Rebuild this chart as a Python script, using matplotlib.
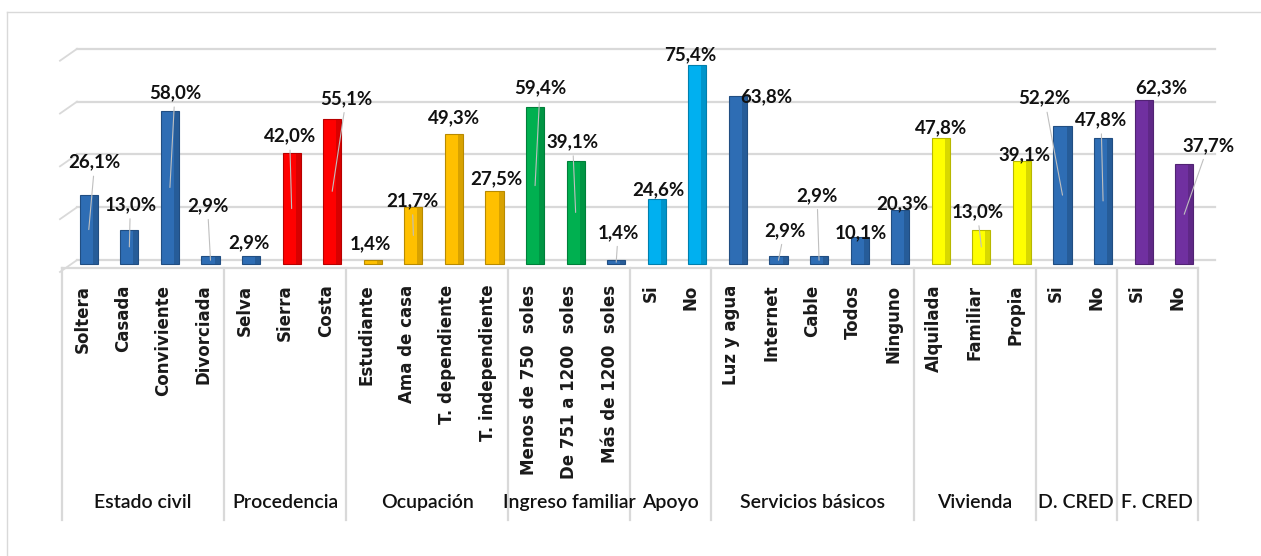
import matplotlib
matplotlib.use('Agg')
import matplotlib.pyplot as plt
import matplotlib.transforms as mtransforms
import matplotlib.colors as mcolors
from matplotlib.lines import Line2D
import numpy as np

# Datos del grafico
grupos = ['Estado civil', 'Procedencia', 'Ocupación', 'Ingreso familiar', 'Apoyo',
          'Servicios básicos', 'Vivienda', 'D. CRED', 'F. CRED']
categorias = [
    ['Soltera', 'Casada', 'Conviviente', 'Divorciada'],
    ['Selva', 'Sierra', 'Costa'],
    ['Estudiante', 'Ama de casa', 'T. dependiente', 'T. independiente'],
    ['Menos de 750  soles', 'De 751 a 1200  soles', 'Más de 1200  soles'],
    ['Si', 'No'],
    ['Luz y agua', 'Internet', 'Cable', 'Todos', 'Ninguno'],
    ['Alquilada', 'Familiar', 'Propia'],
    ['Si', 'No'],
    ['Si', 'No'],
]
porcentajes = [
    [26.1, 13.0, 58.0, 2.9],
    [2.9, 42.0, 55.1],
    [1.4, 21.7, 49.3, 27.5],
    [59.4, 39.1, 1.4],
    [24.6, 75.4],
    [63.8, 2.9, 2.9, 10.1, 20.3],
    [47.8, 13.0, 39.1],
    [52.2, 47.8],
    [62.3, 37.7],
]
lineas_y = [0, 20, 40, 60, 80]

# Estilo
AZUL = '#2E6DB4'
colores = [
    [AZUL] * 4,
    [AZUL, '#FF0000', '#FF0000'],
    ['#FFC000'] * 4,
    ['#00B050', '#00B050', AZUL],
    ['#00B0F0'] * 2,
    [AZUL] * 5,
    ['#FFFF00'] * 3,
    [AZUL] * 2,
    ['#7030A0'] * 2,
]
# desplazamiento de cada etiqueta (px) respecto a la parte alta de la barra
desp_etiqueta = [(6, 33), (1, 25), (5, 18), (-3, 51),
                 (-2, 14), (-2, 17), (14, 20),
                 (-2, 17), (-1, 6), (0, 16), (2, 13),
                 (5, 19), (-3, 19), (2, 28),
                 (2, 9), (-7, 10),
                 (28, -1), (6, 26), (-2, 61), (1, 5), (2, 7),
                 (0, 10), (-4, 18), (3, 6),
                 (-18, 28), (-2, 18),
                 (18, 12), (24, 19)]
con_guia = [1, 1, 1, 1,
            0, 1, 1,
            0, 1, 0, 0,
            1, 1, 1,
            0, 0,
            0, 1, 1, 0, 0,
            0, 1, 0,
            1, 1,
            0, 1]

DEPTH = 0.16   # desplazamiento 3D de las barras
ANCHO = 0.45
WALL = 1.5     # lineas de la pared del fondo

etiquetas = [c for g in categorias for c in g]
valores = [v for g in porcentajes for v in g]
cols = [c for g in colores for c in g]
n = len(valores)
x = np.arange(n)

fig = plt.figure(figsize=(12.61, 5.56), dpi=100)
ax = fig.add_axes([62 / 1261, 1 - 268 / 556, 1136 / 1261, 221 / 556])
ax.set_xlim(-0.5, n - 0.5)
ax.set_ylim(-1.5, 82.2)

# lineas de division del fondo
for g in lineas_y:
    ax.plot([-0.13, n - 0.5 + 0.42], [g + WALL, g + WALL], color='#D9D9D9',
            lw=1.6, clip_on=False, zorder=0)
    ax.plot([-0.55, -0.13], [g + WALL - 4.5, g + WALL], color='#D9D9D9',
            lw=1.3, clip_on=False, zorder=0)

# barras con un lado oscuro para simular el 3D
oscuros = [tuple(np.array(mcolors.to_rgb(c)) * 0.72) for c in cols]
ax.bar(x + DEPTH, valores, width=ANCHO, color=cols, edgecolor=oscuros,
       linewidth=0.8, zorder=2)
ax.bar(x + DEPTH + ANCHO * 0.36, valores, width=ANCHO * 0.28, color=oscuros,
       linewidth=0, alpha=0.55, zorder=3)

# etiquetas de datos
for i, v in enumerate(valores):
    dx, dy = desp_etiqueta[i]
    trans = mtransforms.offset_copy(ax.transData, fig=fig, x=dx, y=dy, units='dots')
    texto = f'{v:.1f}%'.replace('.', ',')
    props = None
    if con_guia[i]:
        props = dict(arrowstyle='-', color='#BFBFBF', lw=0.8, shrinkA=2, shrinkB=0)
    ax.annotate(texto, xy=(i + DEPTH, v / 2), xytext=(i + DEPTH, v), textcoords=trans,
                ha='center', va='center', fontsize=13.5, fontweight='bold',
                family=['Lato', 'DejaVu Sans'], color='#111111',
                arrowprops=props, zorder=5, annotation_clip=False)

ax.set_xticks(x)
ax.set_xticklabels(etiquetas, rotation=90, fontsize=12, fontweight='bold',
                   color='#1A1A1A')
ax.tick_params(axis='x', length=0, pad=12)
ax.set_yticks([])

for s in ['left', 'right', 'top']:
    ax.spines[s].set_visible(False)
ax.spines['bottom'].set_color('#D9D9D9')
ax.spines['bottom'].set_linewidth(1.6)

# separadores y nombres de grupo
blend = mtransforms.blended_transform_factory(ax.transData, ax.transAxes)
limites = np.cumsum([0] + [len(g) for g in categorias])
for b in limites:
    ax.plot([b - 0.5, b - 0.5], [0, -1.14], transform=blend, color='#D9D9D9',
            lw=1.6, clip_on=False)
for k, nombre in enumerate(grupos):
    centro = (limites[k] + limites[k + 1] - 1) / 2
    ax.text(centro, -1.063, nombre, transform=blend, ha='center', va='center',
            fontsize=14, fontweight='semibold', family=['Lato', 'DejaVu Sans'],
            color='#111111')

# borde del area del grafico
fig.add_artist(Line2D([7 / 1261, 7 / 1261], [0, 1 - 12 / 556], transform=fig.transFigure,
                      color='#D9D9D9', lw=1))
fig.add_artist(Line2D([7 / 1261, 1], [1 - 12 / 556, 1 - 12 / 556], transform=fig.transFigure,
                      color='#D9D9D9', lw=1))

fig.savefig('out.png', dpi=100)
